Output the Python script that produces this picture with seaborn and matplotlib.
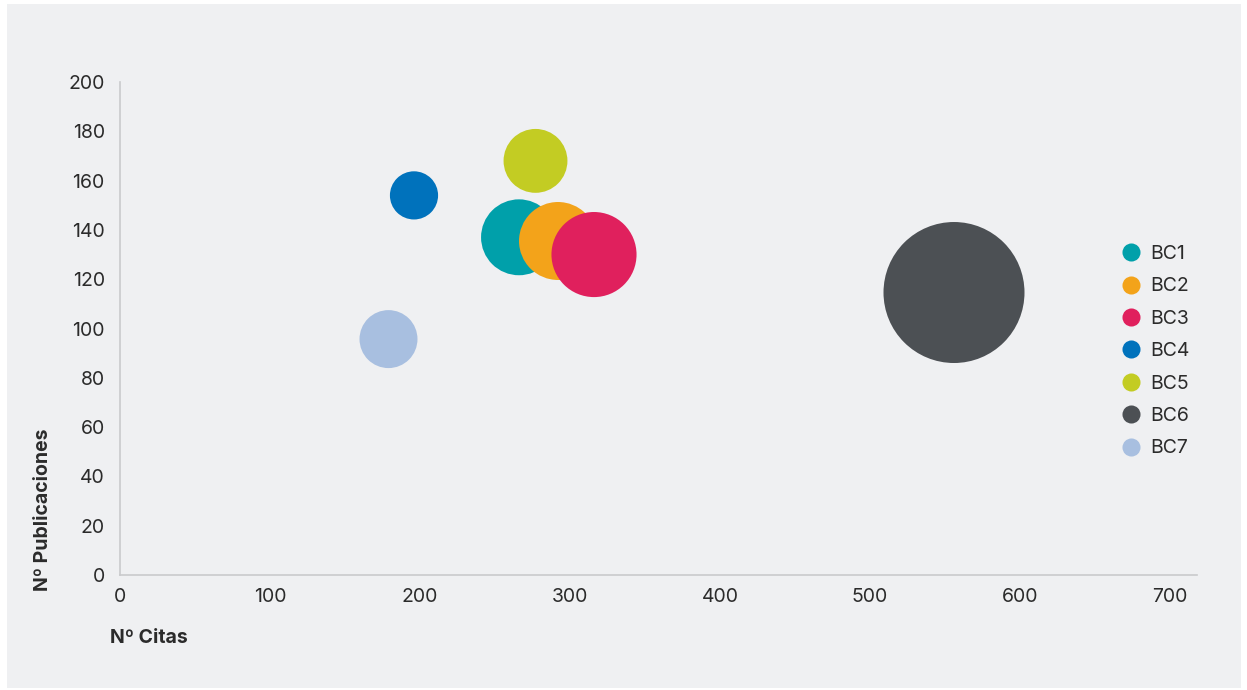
import numpy as np
import pandas as pd
import seaborn as sns
import matplotlib.pyplot as plt
from matplotlib.lines import Line2D
from matplotlib.patches import Rectangle

# datos
grupos = ['BC1', 'BC2', 'BC3', 'BC4', 'BC5', 'BC6', 'BC7']
citas = [266, 292, 316, 196, 277, 556, 179]
publicaciones = [137, 135.5, 130, 154, 168, 114.6, 95.7]
tamano = [14.4, 15.2, 18.1, 5.8, 10.2, 49.7, 8.4]
colores = ['#00a0aa', '#f3a31a', '#e0205d', '#0072bc', '#c3cc23', '#4c5054', '#a8bfe0']

x_ticks = [0, 100, 200, 300, 400, 500, 600, 700]
y_ticks = [0, 20, 40, 60, 80, 100, 120, 140, 160, 180, 200]

df = pd.DataFrame({'grupo': grupos, 'citas': citas,
                   'publicaciones': publicaciones, 'tamano': tamano})

sns.set_theme(style='white')
plt.rcParams['font.family'] = ['Inter', 'DejaVu Sans']

fondo = '#eff0f2'
texto = '#2b2b2b'
fs = 14

fig = plt.figure(figsize=(12.47, 6.90), dpi=100, facecolor='white')
fig.patches.append(Rectangle((7 / 1247, 2 / 690), 1234 / 1247, 684 / 690,
                             transform=fig.transFigure, facecolor=fondo,
                             edgecolor='none', zorder=-10))
ax = fig.add_axes([120 / 1247, 1 - 575 / 690, 1077 / 1247, 493 / 690])
ax.set_facecolor(fondo)

# área del marcador proporcional al tamaño de la burbuja
k = 207.36
sns.scatterplot(data=df, x='citas', y='publicaciones', hue='grupo',
                palette=colores, size='tamano', size_norm=(0, 50),
                sizes=(0, 50 * k), linewidth=0, alpha=1, legend=False, ax=ax)

ax.set_xlim(0, 718)
ax.set_ylim(0, 200)
ax.set_xticks(x_ticks)
ax.set_yticks(y_ticks)
ax.tick_params(axis='both', length=0, labelsize=fs, labelcolor=texto)
ax.tick_params(axis='x', pad=9)
ax.tick_params(axis='y', pad=11)

for lado in ['top', 'right']:
    ax.spines[lado].set_visible(False)
for lado in ['left', 'bottom']:
    ax.spines[lado].set_color('#c9cacc')
    ax.spines[lado].set_linewidth(1.2)

ax.set_xlabel('Nº Citas', fontsize=fs, fontweight='bold', color=texto, loc='left')
ax.xaxis.set_label_coords(-0.009, -0.11)
ax.set_ylabel('Nº Publicaciones', fontsize=fs, fontweight='bold', color=texto, loc='bottom')
ax.yaxis.set_label_coords(-0.063, -0.033)

handles = [Line2D([0], [0], marker='o', linestyle='', markersize=13,
                  markerfacecolor=c, markeredgewidth=0) for c in colores]
ax.legend(handles, grupos, loc='center left', bbox_to_anchor=(0.912, 0.454),
          frameon=False, fontsize=fs, labelspacing=0.74, handletextpad=0.35,
          labelcolor=texto, handlelength=1.2)

plt.savefig('out.png', dpi=100, facecolor='white')
